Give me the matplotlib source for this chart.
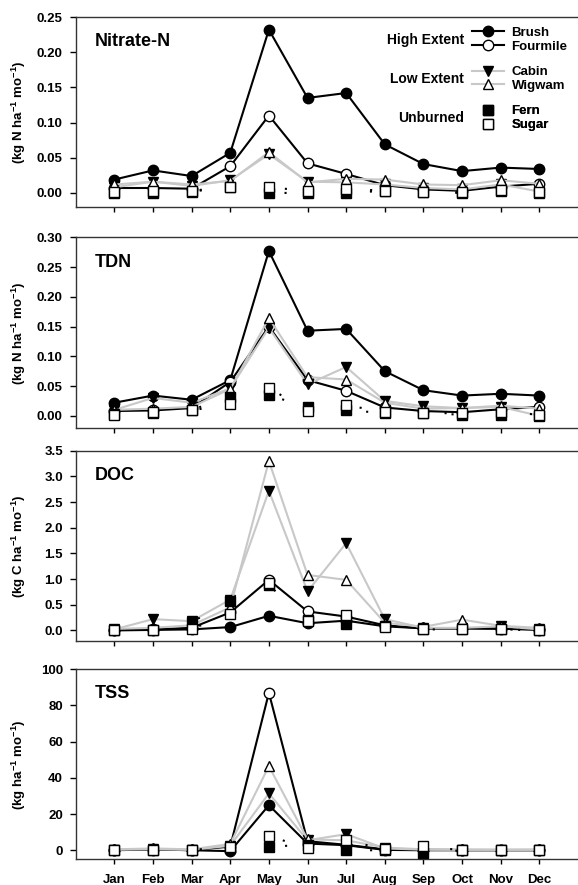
import numpy as np
import matplotlib.pyplot as plt
from matplotlib.lines import Line2D

plt.rcParams["font.family"] = ["Liberation Sans", "DejaVu Sans"]
plt.rcParams["font.weight"] = "bold"
plt.rcParams["mathtext.fontset"] = "custom"
plt.rcParams["mathtext.rm"] = "Liberation Sans:bold"
plt.rcParams["mathtext.bf"] = "Liberation Sans:bold"
plt.rcParams["mathtext.default"] = "bf"

months = ["Jan", "Feb", "Mar", "Apr", "May", "Jun", "Jul", "Aug", "Sep", "Oct", "Nov", "Dec"]
sites = ["Brush", "Fourmile", "Cabin", "Wigwam", "Fern", "Sugar"]

# monthly export per site
nitrate = {
    "Brush":    [0.019, 0.032, 0.024, 0.057, 0.232, 0.135, 0.142, 0.069, 0.041, 0.031, 0.036, 0.034],
    "Fourmile": [0.007, 0.007, 0.006, 0.038, 0.110, 0.042, 0.027, 0.011, 0.005, 0.003, 0.009, 0.013],
    "Cabin":    [0.008, 0.016, 0.010, 0.018, 0.055, 0.016, 0.015, 0.012, 0.007, 0.005, 0.012, 0.002],
    "Wigwam":   [0.012, 0.016, 0.012, 0.017, 0.058, 0.015, 0.020, 0.019, 0.012, 0.011, 0.018, 0.013],
    "Fern":     [0.000, 0.000, 0.002, 0.008, 0.000, 0.000, 0.000, 0.003, 0.001, 0.000, 0.003, 0.000],
    "Sugar":    [0.002, 0.003, 0.003, 0.009, 0.008, 0.003, 0.006, 0.003, 0.002, 0.001, 0.004, 0.002],
}
tdn = {
    "Brush":    [0.022, 0.034, 0.027, 0.060, 0.277, 0.143, 0.146, 0.075, 0.043, 0.034, 0.037, 0.034],
    "Fourmile": [0.008, 0.009, 0.013, 0.057, 0.150, 0.060, 0.042, 0.014, 0.008, 0.006, 0.011, 0.015],
    "Cabin":    [0.010, 0.030, 0.022, 0.046, 0.148, 0.053, 0.082, 0.025, 0.016, 0.013, 0.015, 0.000],
    "Wigwam":   [0.010, 0.012, 0.015, 0.045, 0.164, 0.065, 0.061, 0.022, 0.012, 0.013, 0.017, 0.012],
    "Fern":     [0.003, 0.005, 0.010, 0.032, 0.035, 0.014, 0.009, 0.005, 0.004, 0.002, 0.002, 0.000],
    "Sugar":    [0.002, 0.007, 0.009, 0.020, 0.047, 0.008, 0.018, 0.006, 0.005, 0.004, 0.006, 0.002],
}
doc = {
    "Brush":    [0.00, 0.01, 0.02, 0.065, 0.285, 0.14, 0.19, 0.08, 0.04, 0.04, 0.04, 0.01],
    "Fourmile": [0.01, 0.02, 0.05, 0.35, 0.985, 0.37, 0.27, 0.10, 0.04, 0.04, 0.03, 0.02],
    "Cabin":    [0.02, 0.22, 0.18, 0.60, 2.72, 0.76, 1.70, 0.22, 0.05, 0.05, 0.08, 0.02],
    "Wigwam":   [0.03, 0.05, 0.10, 0.45, 3.30, 1.08, 0.985, 0.15, 0.07, 0.21, 0.09, 0.05],
    "Fern":     [0.00, 0.00, 0.16, 0.58, 0.88, 0.20, 0.12, 0.08, 0.02, 0.02, 0.02, 0.00],
    "Sugar":    [0.01, 0.01, 0.03, 0.32, 0.92, 0.19, 0.30, 0.07, 0.03, 0.03, 0.02, 0.01],
}
tss = {
    "Brush":    [0.0, 0.5, 0.0, -0.5, 24.9, 3.7, 2.8, 0.2, 0.0, 0.0, 0.0, 0.0],
    "Fourmile": [0.2, 0.3, 0.1, 2.0, 87.0, 5.0, 3.0, 0.5, 0.3, 0.1, 0.1, 0.1],
    "Cabin":    [0.3, 0.5, 0.2, 2.5, 31.4, 5.5, 8.9, 1.0, 0.3, 0.2, 0.2, 0.2],
    "Wigwam":   [0.5, 1.0, 0.5, 3.5, 46.5, 6.0, 5.5, 1.5, 0.5, 0.5, 0.4, 0.5],
    "Fern":     [0.0, 0.0, 0.0, 1.5, 2.0, 3.0, 0.0, 0.0, -1.5, 0.0, 0.0, 0.0],
    "Sugar":    [0.0, 0.2, 0.0, 2.0, 8.0, 1.0, 5.5, 0.5, 2.2, 0.0, 0.0, 0.0],
}

panels = [
    ("Nitrate-N", nitrate, "(kg N ha$^{-1}$ mo$^{-1}$)", (-0.02, 0.25), np.arange(0, 0.26, 0.05), "%.2f"),
    ("TDN", tdn, "(kg N ha$^{-1}$ mo$^{-1}$)", (-0.021, 0.30), np.arange(0, 0.31, 0.05), "%.2f"),
    ("DOC", doc, "(kg C ha$^{-1}$ mo$^{-1}$)", (-0.2, 3.5), np.arange(0, 3.6, 0.5), "%.1f"),
    ("TSS", tss, "(kg ha$^{-1}$ mo$^{-1}$)", (-5, 100), np.arange(0, 101, 20), "%d"),
]

GRAY = "#c8c8c8"
styles = {
    "Brush":    dict(color="black", lw=1.5, marker="o", ms=7.5, mfc="black", mec="black"),
    "Fourmile": dict(color="black", lw=1.5, marker="o", ms=7.5, mfc="white", mec="black"),
    "Cabin":    dict(color=GRAY, lw=1.5, marker="v", ms=7.5, mfc="black", mec="black"),
    "Wigwam":   dict(color=GRAY, lw=1.5, marker="^", ms=7.5, mfc="white", mec="black"),
    "Fern":     dict(color="black", lw=1.5, ls=(0, (1, 40)), marker="s", ms=6.5, mfc="black", mec="black"),
    "Sugar":    dict(color="black", lw=1.5, ls=(0, (1, 40)), marker="s", ms=6.5, mfc="white", mec="black"),
}

# axes boxes in pixels (top, bottom) on a 578x885 figure
W, H = 578, 885
left_px = 75.7
boxes = [(17, 207), (237.3, 428.3), (450.7, 640.7), (669.3, 859.3)]

fig = plt.figure(figsize=(W / 100, H / 100), dpi=100)
x = np.arange(1, 13)

axes = []
for (name, data, ylab, ylim, yticks, fmt), (top, bot) in zip(panels, boxes):
    ax = fig.add_axes([left_px / W, 1 - bot / H, 1 - left_px / W, (bot - top) / H])
    axes.append(ax)
    for z, s in enumerate(sites):
        ax.plot(x, data[s], zorder=3 + z, clip_on=False, markeredgewidth=1.0, **styles[s])
    ax.set_xlim(0, 13)
    ax.set_ylim(*ylim)
    ax.set_yticks(yticks)
    ax.set_yticklabels([fmt % v for v in yticks])
    ax.set_xticks(x)
    ax.spines["right"].set_visible(False)
    for sp in ["top", "bottom", "left"]:
        ax.spines[sp].set_linewidth(1.0)
        ax.spines[sp].set_color("#333333")
    ax.tick_params(axis="y", direction="out", length=4.3, width=1, pad=5, labelsize=9.5)
    ax.tick_params(axis="x", direction="out", length=3.5, width=1, pad=7, labelsize=9.5)
    ax.set_ylabel(ylab, fontsize=9.5, fontweight="bold")
    ax.yaxis.set_label_coords(-0.095, 0.5)
    ax.text(0.038, 0.87, name, transform=ax.transAxes, fontsize=13,
            fontweight="bold", ha="left", va="center")
    if name != "TSS":
        ax.set_xticklabels([])
    else:
        ax.set_xticklabels(months)

# grouped legend in the first panel
ax = axes[0]
groups = [("High Extent", ["Brush", "Fourmile"], 0.881),
          ("Low Extent", ["Cabin", "Wigwam"], 0.674),
          ("Unburned", ["Fern", "Sugar"], 0.467)]
for gname, members, ypos in groups:
    handles = []
    for s in members:
        st = dict(styles[s])
        if s in ("Fern", "Sugar"):
            st["ls"] = "none"
        handles.append(Line2D([], [], markeredgewidth=1.0, **st))
    leg = ax.legend(handles, members, loc="center left", bbox_to_anchor=(0.789, ypos),
                    frameon=False, fontsize=9.5, handlelength=2.4, handletextpad=0.6,
                    labelspacing=0.12, borderpad=0, borderaxespad=0)
    for t in leg.get_texts():
        t.set_fontweight("bold")
    ax.add_artist(leg)
    ax.text(0.773, ypos, gname, transform=ax.transAxes, fontsize=10,
            fontweight="bold", ha="right", va="center")

fig.savefig("out.png", dpi=100)
